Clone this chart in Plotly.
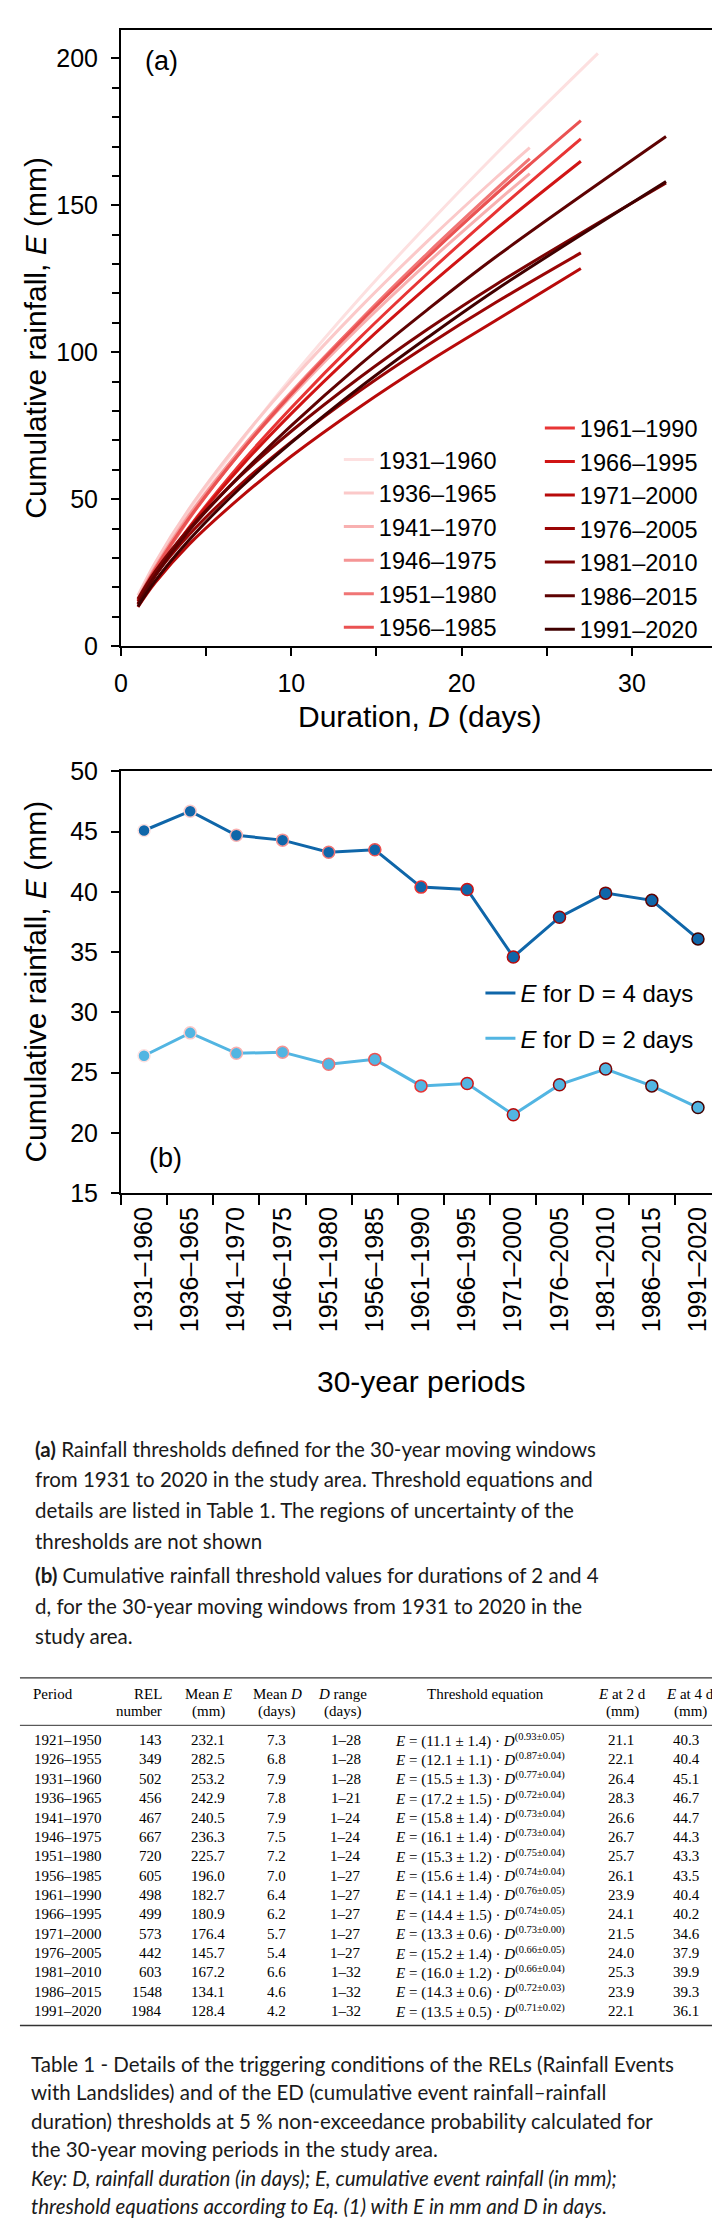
import plotly.graph_objects as go

W, H = 720, 2228

# ---- panel (a): threshold curves for the 30-year windows ----
periods = ["1931–1960", "1936–1965", "1941–1970", "1946–1975", "1951–1980",
           "1956–1985", "1961–1990", "1966–1995", "1971–2000", "1976–2005",
           "1981–2010", "1986–2015", "1991–2020"]
period_colors = ["#fde0e0", "#fbc9c9", "#f8b0b0", "#f59595", "#f07575",
                 "#ea5252", "#e83535", "#d01414", "#b80a0a", "#9a0505",
                 "#7c0303", "#5e0202", "#400000"]
d_grid = [1, 2, 4, 7, 10, 14, 18, 22]
d_end = [28, 24, 24, 24, 24, 27, 27, 27, 27, 27, 32, 32, 32]
e_curves = [
    [15.5, 26.4, 45.1, 69.3, 91.3, 118.3, 143.4, 167.4, 201.7],
    [17.2, 28.3, 46.7, 69.8, 90.3, 115.0, 137.8, 159.3, 169.6],
    [15.8, 26.6, 44.7, 66.0, 85.0, 108.6, 130.4, 150.9, 160.8],
    [16.1, 26.7, 44.3, 66.7, 86.5, 110.5, 132.8, 153.8, 163.9],
    [15.3, 25.7, 43.3, 65.9, 86.0, 110.7, 133.7, 155.4, 165.9],
    [15.6, 26.1, 43.5, 65.8, 85.7, 110.0, 132.4, 153.7, 178.8],
    [14.1, 23.9, 40.4, 61.9, 81.1, 104.8, 126.8, 147.7, 172.6],
    [14.4, 24.1, 40.2, 60.8, 79.1, 101.5, 122.3, 141.8, 165.0],
    [13.3, 21.5, 34.6, 50.5, 64.6, 81.3, 96.6, 110.8, 128.5],
    [15.2, 24.0, 37.9, 54.9, 69.5, 86.8, 102.4, 116.9, 133.8],
    [16.0, 25.3, 39.9, 57.8, 73.1, 91.3, 107.8, 123.0, 157.6],
    [14.3, 23.9, 39.3, 58.1, 75.0, 95.6, 114.5, 132.4, 173.4],
    [13.5, 22.1, 36.1, 53.8, 69.2, 87.9, 105.0, 121.2, 158.1],
]

# ---- Table 1 ----
t_period = ["1921–1950", "1926–1955"] + periods
t_rel = [143, 349, 502, 456, 467, 667, 720, 605, 498, 499, 573, 442, 603, 1548, 1984]
t_mean_e = [232.1, 282.5, 253.2, 242.9, 240.5, 236.3, 225.7, 196.0, 182.7, 180.9,
            176.4, 145.7, 167.2, 134.1, 128.4]
t_mean_d = [7.3, 6.8, 7.9, 7.8, 7.9, 7.5, 7.2, 7.0, 6.4, 6.2, 5.7, 5.4, 6.6, 4.6, 4.2]
t_d_range = ["1–28", "1–28", "1–28", "1–21", "1–24", "1–24", "1–24", "1–27",
             "1–27", "1–27", "1–27", "1–27", "1–32", "1–32", "1–32"]
t_alpha = [11.1, 12.1, 15.5, 17.2, 15.8, 16.1, 15.3, 15.6, 14.1, 14.4, 13.3, 15.2, 16.0, 14.3, 13.5]
t_alpha_err = [1.4, 1.1, 1.3, 1.5, 1.4, 1.4, 1.2, 1.4, 1.4, 1.5, 0.6, 1.4, 1.2, 0.6, 0.5]
t_beta = [0.93, 0.87, 0.77, 0.72, 0.73, 0.73, 0.75, 0.74, 0.76, 0.74, 0.73, 0.66, 0.66, 0.72, 0.71]
t_beta_err = [0.05, 0.04, 0.04, 0.04, 0.04, 0.04, 0.04, 0.04, 0.05, 0.05, 0.00, 0.05, 0.04, 0.03, 0.02]
t_e2 = [21.1, 22.1, 26.4, 28.3, 26.6, 26.7, 25.7, 26.1, 23.9, 24.1, 21.5, 24.0, 25.3, 23.9, 22.1]
t_e4 = [40.3, 40.4, 45.1, 46.7, 44.7, 44.3, 43.3, 43.5, 40.4, 40.2, 34.6, 37.9, 39.9, 39.3, 36.1]

caption_a = [
    "<b>(a)</b> Rainfall thresholds defined for the 30-year moving windows",
    "from 1931 to 2020 in the study area. Threshold equations and",
    "details are listed in Table 1. The regions of uncertainty of the",
    "thresholds are not shown",
]
caption_b = [
    "<b>(b)</b> Cumulative rainfall threshold values for durations of 2 and 4",
    "d, for the 30-year moving windows from 1931 to 2020 in the",
    "study area.",
]
caption_t = [
    "Table 1 - Details of the triggering conditions of the RELs (Rainfall Events",
    "with Landslides) and of the ED (cumulative event rainfall–rainfall",
    "duration) thresholds at 5 % non-exceedance probability calculated for",
    "the 30-year moving periods in the study area.",
    "<i>Key: D, rainfall duration (in days); E, cumulative event rainfall (in mm);</i>",
    "<i>threshold equations according to Eq. (1) with E in mm and D in days.</i>",
]

FONT = "Liberation Sans, Arial, sans-serif"
CAP_FONT = "Lato, sans-serif"
SERIF = "Liberation Serif, Times New Roman, serif"


def fx(px):
    return px / W


def fy(py):
    return 1 - py / H


fig = go.Figure()

for i, (name, col, dmax, ev) in enumerate(zip(periods, period_colors, d_end, e_curves)):
    fig.add_trace(go.Scatter(
        x=d_grid + [dmax], y=ev, mode="lines", name=name,
        line=dict(color=col, width=3, shape="spline"),
        legend="legend" if i < 6 else "legend2",
        xaxis="x", yaxis="y", hoverinfo="skip",
    ))

# panel (b)
e4 = t_e4[2:]
e2 = t_e2[2:]
for vals, col, grp, lbl in [(e4, "#0f66a9", "d4", "<i>E</i> for D = 4 days"),
                            (e2, "#52b5e2", "d2", "<i>E</i> for D = 2 days")]:
    fig.add_trace(go.Scatter(
        x=periods, y=vals, mode="lines+markers", showlegend=False,
        line=dict(color=col, width=3),
        marker=dict(size=12, color=col, line=dict(color=period_colors, width=1.5)),
        xaxis="x2", yaxis="y2",
    ))
    fig.add_trace(go.Scatter(
        x=[None], y=[None], mode="lines", name=lbl, legendgroup=grp,
        line=dict(color=col, width=3), legend="legend3",
        xaxis="x2", yaxis="y2",
    ))

axis_common = dict(showgrid=False, zeroline=False, showline=True, linecolor="black",
                   linewidth=2, mirror=True, ticks="outside", tickcolor="black",
                   tickwidth=2, tickfont=dict(family=FONT, size=25, color="black"))

fig.update_layout(
    width=W, height=H,
    margin=dict(l=0, r=0, t=0, b=0),
    paper_bgcolor="white", plot_bgcolor="white",
    font=dict(family=FONT, color="black"),
    xaxis=dict(domain=[fx(107), fx(709)], range=[0, 35], dtick=10, ticklen=8,
               ticklabelstandoff=6, anchor="y",
               minor=dict(dtick=5, ticks="outside", ticklen=8, tickwidth=2, tickcolor="black"),
               **axis_common),
    yaxis=dict(domain=[fy(632), fy(8)], range=[0, 209.7], dtick=50, ticklen=8,
               ticklabelstandoff=8, anchor="x",
               minor=dict(dtick=10, ticks="outside", ticklen=7, tickwidth=2, tickcolor="black"),
               **axis_common),
    xaxis2=dict(domain=[fx(107), fx(713)], type="category", range=[-0.5, 12.5],
                tickson="boundaries", ticklen=10, tickangle=-90, anchor="y2",
                ticklabelstandoff=2, **axis_common),
    yaxis2=dict(domain=[fy(1186), fy(759)], range=[15, 50], dtick=5, ticklen=8,
                ticklabelstandoff=8, anchor="x2", **axis_common),
    legend=dict(x=fx(327), y=fy(421), xanchor="left", yanchor="top",
                bgcolor="rgba(0,0,0,0)", font=dict(family=FONT, size=23.5)),
    legend2=dict(x=fx(530), y=fy(389), xanchor="left", yanchor="top",
                 bgcolor="rgba(0,0,0,0)", font=dict(family=FONT, size=23.5)),
    legend3=dict(x=fx(470), y=fy(961), xanchor="left", yanchor="top",
                 bgcolor="rgba(0,0,0,0)", tracegroupgap=11,
                 font=dict(family=FONT, size=24)),
    showlegend=True,
)

ann = []


def text(x, y, s, size, family=FONT, xanchor="center", color="black", angle=0):
    ann.append(dict(x=fx(x), y=fy(y), xref="paper", yref="paper", text=s,
                    showarrow=False, xanchor=xanchor, yanchor="middle",
                    textangle=angle, font=dict(family=family, size=size, color=color)))


# axis titles and panel labels
text(21, 320, "Cumulative rainfall, <i>E</i> (mm)", 30, angle=-90)
text(408, 703, "Duration, <i>D</i> (days)", 30)
text(148, 40, "(a)", 27)
text(21, 972, "Cumulative rainfall, <i>E</i> (mm)", 30, angle=-90)
text(410, 1377, "30-year periods", 30)
text(152, 1150, "(b)", 27)

# captions
for k, s in enumerate(caption_a):
    text(18, 1445 + k * 31, s, 20.5, CAP_FONT, "left", "#1a1a1a")
for k, s in enumerate(caption_b):
    text(18, 1573 + k * 31, s, 20.5, CAP_FONT, "left", "#1a1a1a")
for k, s in enumerate(caption_t):
    text(14, 2068 + k * 28.8, s, 20.5, CAP_FONT, "left", "#1a1a1a")

# table header
TS = 15
text(16, 1693, "Period", TS, SERIF, "left")
text(150, 1693, "REL", TS, SERIF, "right")
text(150, 1711, "number", TS, SERIF, "right")
text(195, 1693, "Mean <i>E</i>", TS, SERIF)
text(195, 1711, "(mm)", TS, SERIF)
text(265, 1693, "Mean <i>D</i>", TS, SERIF)
text(265, 1711, "(days)", TS, SERIF)
text(331, 1693, "<i>D</i> range", TS, SERIF)
text(331, 1711, "(days)", TS, SERIF)
text(475, 1693, "Threshold equation", TS, SERIF)
text(613, 1693, "<i>E</i> at 2 d", TS, SERIF)
text(613, 1711, "(mm)", TS, SERIF)
text(682, 1693, "<i>E</i> at 4 d", TS, SERIF)
text(682, 1711, "(mm)", TS, SERIF)

# table rows
for i in range(len(t_period)):
    y = 1740 + i * 19.6
    text(17, y, t_period[i], TS, SERIF, "left")
    text(150, y, str(t_rel[i]), TS, SERIF, "right")
    text(195, y, f"{t_mean_e[i]:.1f}", TS, SERIF)
    text(264, y, f"{t_mean_d[i]:.1f}", TS, SERIF)
    text(334, y, t_d_range[i], TS, SERIF)
    eq = (f"<i>E</i> = ({t_alpha[i]:.1f} ± {t_alpha_err[i]:.1f}) · "
          f"<i>D</i><sup>({t_beta[i]:.2f}±{t_beta_err[i]:.2f})</sup>")
    text(382, y, eq, TS, SERIF, "left")
    text(612, y, f"{t_e2[i]:.1f}", TS, SERIF)
    text(678, y, f"{t_e4[i]:.1f}", TS, SERIF)

shapes = []
for yy, lw in [(1677, 1.2), (1725, 1), (2029, 1.6)]:
    shapes.append(dict(type="line", xref="paper", yref="paper", x0=fx(5), x1=fx(716),
                       y0=fy(yy), y1=fy(yy), line=dict(color="#333", width=lw)))

fig.update_layout(annotations=ann, shapes=shapes)

fig.write_html("out.html")
